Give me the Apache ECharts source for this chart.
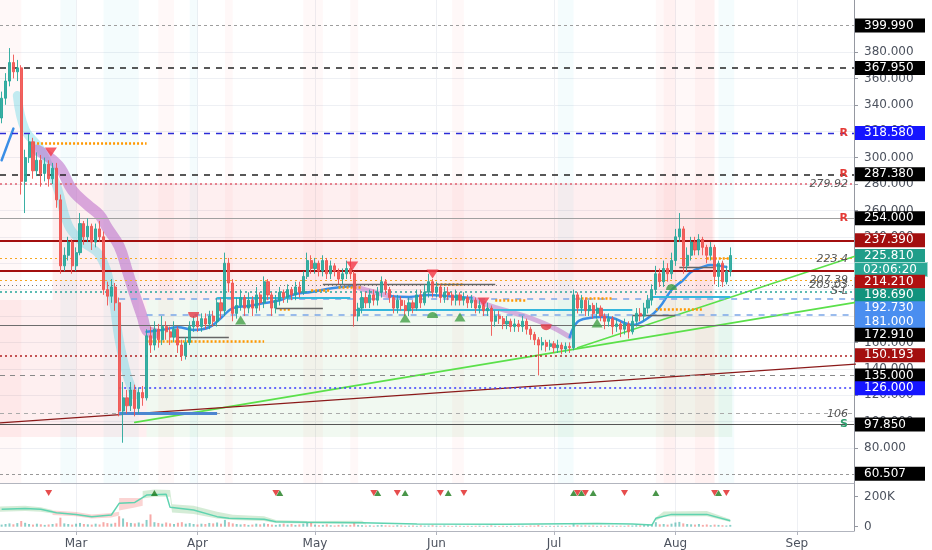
<!DOCTYPE html>
<html><head><meta charset="utf-8">
<script src="https://cdn.jsdelivr.net/npm/echarts@6/dist/echarts.min.js"></script>
<style>html,body{margin:0;padding:0;background:#fff}#c{width:932px;height:550px}</style>
</head><body><div id="c"></div>
<script>
// ---------------- DATA ----------------
const startDate = '2020-02-11';
const openVals = [
330,345,358,372,365,368,282,300,312,290,
298,288,295,284,292,268,218,226,236,218,
228,250,240,248,236,246,240,200,195,202,
190,108,118,112,124,110,122,118,165,158,
170,162,172,168,164,170,158,150,160,172,
176,172,178,174,180,176,190,184,220,205,
182,188,194,186,192,186,196,190,206,196,
186,192,198,194,200,196,202,198,210,222,
216,220,214,222,212,218,214,208,212,216,
212,180,186,194,190,196,192,198,206,200,
194,186,192,188,184,190,186,196,190,198,
206,198,202,194,198,196,192,196,192,194,
190,192,186,188,184,186,176,180,178,174,
176,172,174,172,176,170,166,162,158,160,
157,159,156,158,155,157,156,196,186,192,
184,188,182,186,180,176,178,172,174,170,
174,168,176,182,180,186,192,200,212,206,
216,212,222,240,246,218,226,236,230,238,
232,226,232,210,220,206,214];
const closeVals = [
345,358,372,365,368,282,300,312,290,298,
288,295,284,292,268,218,226,236,218,228,
250,240,248,236,246,240,200,195,202,190,
108,118,112,124,110,122,118,165,158,170,
162,172,168,164,170,158,150,160,172,176,
172,178,174,180,176,190,184,220,205,182,
188,194,186,192,186,196,190,206,196,186,
192,198,194,200,196,202,198,210,222,216,
220,214,222,212,218,214,208,212,216,212,
180,186,194,190,196,192,198,206,200,194,
186,192,188,184,190,186,196,190,198,206,
198,202,194,198,196,192,196,192,194,190,
192,186,188,184,186,176,180,178,174,176,
172,174,172,176,170,166,162,158,160,157,
159,156,158,155,157,156,196,186,192,184,
188,182,186,180,176,178,172,174,170,174,
168,176,182,180,186,192,200,212,206,216,
212,222,240,246,218,226,236,230,238,232,
226,232,210,220,206,214,225.81];
const highVals = [
350,364,383,378,374,370,306,318,315,304,
302,300,298,296,296,272,232,240,238,232,
258,252,254,250,250,252,244,206,208,205,
194,130,124,130,128,126,127,170,172,176,
174,180,176,172,176,172,162,164,176,180,
180,182,182,184,184,194,194,228,224,208,
194,200,196,198,195,202,198,210,208,198,
196,202,200,204,202,206,206,214,228,226,
224,222,226,224,222,220,216,216,222,224,
214,190,198,198,200,200,202,210,208,202,
196,196,195,192,194,192,200,200,204,212,
208,206,204,202,202,198,200,198,198,196,
196,194,192,190,190,188,184,184,180,180,
178,178,177,180,178,172,168,164,164,162,
162,161,162,160,160,160,200,198,196,194,
192,190,190,188,182,182,180,178,176,178,
176,180,186,186,190,196,204,218,216,222,
220,228,246,258,248,232,240,240,242,240,
234,236,234,222,222,218,232];
const lowVals = [
326,340,354,360,358,272,258,296,284,286,
278,282,278,280,262,212,214,222,212,214,
226,234,236,230,232,236,196,188,190,184,
104,84,106,108,104,106,112,116,152,154,
156,158,162,158,160,152,146,147,158,168,
168,168,170,170,172,172,178,180,198,176,
178,184,180,182,180,182,184,186,192,180,
182,188,190,190,192,192,194,196,208,212,
212,210,210,208,208,210,204,204,208,208,
172,176,182,186,186,188,188,194,196,190,
182,182,184,180,180,182,184,186,188,194,
194,194,190,190,192,188,188,188,188,186,
186,182,182,180,180,165,172,174,170,170,
168,168,168,168,166,162,158,135,154,153,
154,152,152,151,152,152,154,182,182,180,
180,178,178,176,170,172,166,168,164,166,
163,166,172,176,176,182,188,196,202,202,
206,208,218,236,212,214,222,226,226,226,
220,222,204,202,202,204,210];
const volumeVals = [ // thousands
14,18,22,16,24,38,26,18,14,20,
16,12,15,18,22,60,22,18,14,20,
25,18,16,14,20,15,30,24,20,26,
70,55,30,25,22,28,20,45,82,30,
25,20,28,22,18,26,30,20,24,18,
15,20,18,25,22,28,20,45,30,22,
18,15,18,12,14,20,16,22,18,14,
12,16,20,14,18,12,15,20,26,30,
14,10,12,16,10,8,12,14,10,12,
28,12,10,8,9,7,10,12,9,8,
7,10,8,6,7,8,6,9,7,8,
10,7,6,8,6,5,7,6,5,6,
5,6,7,5,6,9,6,5,6,5,
6,5,7,6,5,8,7,12,6,5,
6,5,7,6,5,6,25,10,8,9,
7,8,6,7,6,8,7,6,7,6,
9,8,10,9,12,14,18,30,16,18,
14,20,28,32,22,18,16,14,18,12,
15,10,14,12,10,8,12];

const monthTicks = ['2020-03-01','2020-04-01','2020-05-01','2020-06-01','2020-07-01','2020-08-01','2020-09-01'];
const monthNames = ['Mar','Apr','May','Jun','Jul','Aug','Sep'];
const priceTicks = [80,100,120,140,160,180,200,220,240,260,280,300,320,340,360,380];
const volTicks = [0,200];
const volTickLabels = ['0','200K'];

const levelValues = [399.99,367.95,318.58,287.38,279.92,254,237.39,225.81,223.4,214.21,207.39,203.03,198.69,192.73,181,172.91,150.193,135,126,106,97.85,60.507];
const levelBoxTexts = ['399.990','367.950','318.580','287.380',null,'254.000','237.390','225.810',null,'214.210',null,null,'198.690','192.730','181.000','172.910','150.193','135.000','126.000',null,'97.850','60.507'];
const levelNotes = [null,null,'R','R','279.92','R',null,null,'223.4',null,'207.39','203.03','S-L',null,null,null,null,null,null,'106','S',null];
const countdownText = '02:06:20';

const blueMA = [
 [['2020-02-11',298],['2020-02-12',306],['2020-02-13',314],['2020-02-14',322]],
 [['2020-03-19',168],['2020-03-23',169.5],['2020-03-27',171.5],['2020-03-31',169.5],['2020-04-04',171.5],['2020-04-07',178.5],['2020-04-10',186],['2020-04-14',187.6],['2020-04-18',189.8],['2020-04-22',192],['2020-04-26',196.7],['2020-04-30',198.2],['2020-05-04',200.5],['2020-05-08',202],['2020-05-11',202.7]],
 [['2020-05-20',195.2],['2020-05-25',194.5],['2020-05-30',196],['2020-06-04',195],['2020-06-10',193.6]],
 [['2020-07-05',164.1],['2020-07-07',175.5],['2020-07-10',178.5],['2020-07-13',179.2],['2020-07-16',178.5],['2020-07-19',174.7],['2020-07-21',173.2],['2020-07-25',178.5],['2020-07-28',186.8],['2020-07-31',199.7],['2020-08-03',207.3],['2020-08-05',213.3],['2020-08-08',217.1],['2020-08-10',218.6],['2020-08-14',217.1]]
];
const purpleRibbon = [['2020-02-20',305.8],['2020-02-23',300.5],['2020-02-26',292],['2020-02-29',275.5],['2020-03-04',264],['2020-03-07',256.5],['2020-03-09',246.7],['2020-03-12',233],['2020-03-14',215],['2020-03-16',196],['2020-03-18',178.5],['2020-03-19',169.4],['2020-03-21',167]];
const purpleThin = [
 [['2020-05-11',202.7],['2020-05-14',199.7],['2020-05-20',195.2]],
 [['2020-06-10',193.6],['2020-06-14',188.5],['2020-06-20',183],['2020-06-25',178.5],['2020-07-01',171],['2020-07-05',164.1]]
];
const cyanRibbon = [['2020-02-15',347],['2020-02-17',321],['2020-02-21',306],['2020-02-25',279],['2020-02-28',249],['2020-03-02',237.6],['2020-03-07',226],['2020-03-10',199.7],['2020-03-12',161.8],['2020-03-14',135.3],['2020-03-16',120]];

const greenTrendLow = [['2020-03-16',99.4],['2020-09-16',190.3]];
const greenTrendHigh = [['2020-07-07',156],['2020-09-16',225.5]];
const redTrend = [['2020-02-10',98.9],['2020-09-16',143.6]];

const cyanSegments = [
 [['2020-02-10',118.5],['2020-03-12',118.5]],
 [['2020-04-06',193.6],['2020-05-10',193.6]],
 [['2020-05-11',184.5],['2020-07-21',184.5]],
 [['2020-07-26',194.4],['2020-08-15',194.4]]
];
const blueSegment = [['2020-03-12',106.5],['2020-04-06',106.5]];
const greyBand106 = [['2020-02-10',106],['2020-08-15',106]];
const orangeSegments = [
 [['2020-02-10',351],['2020-02-14',351]],
 [['2020-02-18',311],['2020-03-19',311]],
 [['2020-03-19',161],['2020-04-18',161]],
 [['2020-04-22',185.3],['2020-04-25',185.3]],
 [['2020-04-30',199.7],['2020-05-05',199.7]],
 [['2020-05-07',202],['2020-05-13',202]],
 [['2020-06-01',204],['2020-06-08',204]],
 [['2020-06-16',192],['2020-06-24',192]],
 [['2020-07-07',193.6],['2020-07-16',193.6]],
 [['2020-07-27',185.3],['2020-08-08',185.3]],
 [['2020-08-09',223.9],['2020-08-15',223.9]]
];
const greySegments = [
 [['2020-02-10',254],['2020-03-26',254]],
 [['2020-03-27',164],['2020-04-09',164]],
 [['2020-04-21',186],['2020-05-03',186]],
 [['2020-05-03',204.2],['2020-06-16',204.2]],
 [['2020-07-21',180.8],['2020-08-01',180.8]],
 [['2020-08-02',217],['2020-08-11',217]]
];
const darkDotted150 = [['2020-02-10',150.193],['2020-03-01',150.193]];

const upTriangles = [['2020-04-12',177],['2020-05-24',178.5],['2020-06-07',179.2],['2020-07-12',174.7]];
const upCaps = [['2020-05-31',180.8],['2020-07-31',202]];
const downTriangles = [['2020-02-23T14:00:00',304.2],['2020-05-10T12:00:00',217.9],['2020-05-31',211.8],['2020-06-13',190.6]];
const downCaps = [['2020-03-31',180.8],['2020-06-29',171.5]];

const volMarksDown = ['2020-02-23','2020-04-21','2020-05-16','2020-05-22','2020-06-02','2020-06-08','2020-07-07','2020-07-09','2020-07-19','2020-08-11','2020-08-14'];
const volMarksUp = ['2020-03-21','2020-04-22','2020-05-17','2020-05-24','2020-06-04','2020-07-06','2020-07-08','2020-07-11','2020-07-27','2020-08-12'];
const volMarkLevel = 225;

const volLine = [['2020-02-11',116],['2020-02-17',122],['2020-02-21',116],['2020-02-25',93],['2020-03-01',82],['2020-03-05',67],['2020-03-10',78],['2020-03-12',156],['2020-03-16',162],['2020-03-19',211],['2020-03-24',216],['2020-03-25',129],['2020-03-31',111],['2020-04-06',67],['2020-04-09',56],['2020-04-18',49],['2020-04-21',33],['2020-04-29',29],['2020-05-13',27],['2020-05-27',18],['2020-06-19',16],['2020-07-12',22],['2020-07-21',18],['2020-07-26',11],['2020-07-27',56],['2020-07-31',82],['2020-08-09',82],['2020-08-15',40]];
const volGreenBands = [
 [['2020-02-10T14:00:00',100,135],['2020-02-17',105,140],['2020-02-21',100,130],['2020-02-24',88,112]],
 [['2020-03-18',188,238],['2020-03-21',200,248],['2020-03-25',200,245],['2020-03-25T12:00:00',95,150],['2020-03-31',85,140],['2020-04-06',55,100],['2020-04-10',45,80],['2020-04-18',38,70],['2020-04-21',25,45],['2020-04-29',22,38],['2020-05-13',20,40],['2020-05-14',14,22]],
 [['2020-07-27',40,62],['2020-07-29',68,102],['2020-08-09',70,104],['2020-08-15',32,50]]
];
const volPinkBands = [
 [['2020-02-24',78,108],['2020-03-01',70,98],['2020-03-05',55,82],['2020-03-10',62,92],['2020-03-12',75,100]],
 [['2020-03-12',108,192],['2020-03-16',128,192],['2020-03-18',140,190]]
];

const zonePink = [[['2020-02-24',280.8],['2020-08-10T12:00:00',192.1]],[['2020-02-10',192.1],['2020-03-19',88.3]]];
const zoneGreen = [[['2020-03-19',192.1],['2020-08-15T12:00:00',88.3]]];
const stripesPink = [['2020-02-10','2020-02-16'],['2020-03-22','2020-03-26'],['2020-04-08','2020-04-10'],['2020-04-28','2020-05-03'],['2020-05-10','2020-05-12'],['2020-06-05','2020-06-08'],['2020-07-27','2020-08-11'],['2020-07-29','2020-08-01'],['2020-08-06','2020-08-11']];
const stripesCyan = [['2020-02-26','2020-03-01'],['2020-03-08','2020-03-17'],['2020-03-30','2020-04-01'],['2020-07-02','2020-07-06'],['2020-08-12','2020-08-16']];

// ---------------- BUILD ----------------
const DAY = 86400000;
function T(s){ return new Date(s.length <= 10 ? s + 'T00:00:00' : s).getTime(); }
const t0 = T(startDate);
const times = closeVals.map((_, i) => t0 + i * DAY);
const xMin = T('2020-02-10T14:00:00');
const xMax = xMin + 218 * DAY;
const UP = '#26a69a', DOWN = '#ef5350';
const FONT = 'DejaVu Sans';
const NOLINE = { color:'rgba(0,0,0,0)', width:0.1, type:'solid' };

const candleData = times.map((t, i) => [t, openVals[i], closeVals[i], lowVals[i], highVals[i]]);
const volData = times.map((t, i) => ({ value: [t, volumeVals[i]], itemStyle: { color: closeVals[i] >= openVals[i] ? 'rgba(38,166,154,0.55)' : 'rgba(239,83,80,0.5)' } }));
const P = arr => arr.map(p => [T(p[0]), p[1]]);

const levelStyle = [
 {color:'#9e9e9e', type:[3,3], width:1, bg:'#000'},
 {color:'#222', type:[6,6], width:1.5, bg:'#000'},
 {color:'#2b2bd6', type:[6,6], width:1.3, bg:'#1515ff', tag:'#e53935'},
 {color:'#222', type:[6,6], width:1.5, bg:'#000', tag:'#e53935'},
 {color:'#e06070', type:[2,3], width:1.5},
 {color:'#a0a0a0', type:'solid', width:1, bg:'#000', tag:'#e53935'},
 {color:'#a30f0f', type:'solid', width:2, bg:'#a30f0f'},
 {hidden:true, bg:'#1f9d89'},
 {color:'#f5a623', type:[2,3], width:1},
 {color:'#a30f0f', type:'solid', width:2, bg:'#b01010', shift:11},
 {color:'#f5a623', type:[2,3], width:1},
 {color:'#777', type:[1,3], width:1},
 {color:'#26a69a', type:[2,3], width:1.5, bg:'#11937d', shift:4},
 {color:'#7ba6e8', type:[6,6], width:1.5, bg:'#4a8ef0', shift:9, from:'2020-03-12'},
 {color:'#7ba6e8', type:[6,6], width:1.5, bg:'#4a8ef0', shift:7, from:'2020-03-19'},
 {color:'#6d6d6d', type:'solid', width:1, bg:'#000', shift:9.5},
 {color:'#b02020', type:[2,3], width:1.5, bg:'#a30f0f'},
 {color:'#888', type:[5,5], width:1, bg:'#000'},
 {color:'#3a3aff', type:[2,3], width:1.5, bg:'#1515ff', shift:1, from:'2020-03-12'},
 {color:'#aaa', type:[4,4], width:1},
 {color:'#555', type:'solid', width:1, bg:'#000', tag:'#2e9e6e'},
 {color:'#999', type:[3,3], width:1, bg:'#000'}
];

function boxLabel(text, bg, shift){
  const rich = {
    t: { color:'#fff', backgroundColor:bg, fontSize:12, fontFamily:FONT, height:14, lineHeight:14, width:52, padding:[0,9,0,9], align:'left' },
    s: { fontSize:1, height:Math.max(1, Math.abs(shift)*2), lineHeight:Math.max(1, Math.abs(shift)*2) }
  };
  let fmt = '{t|' + text + '}';
  if (shift > 0) fmt = '{s| }\n' + fmt; else if (shift < 0) fmt = fmt + '\n{s| }';
  return { show:true, position:'end', distance:1, formatter:fmt, rich };
}

const markLines = [];
levelValues.forEach((v, i) => {
  const st = levelStyle[i];
  const box = levelBoxTexts[i];
  let label = { show:false };
  if (i === 7) {
    label = { show:true, position:'end', distance:1,
      formatter:'{s| }\n{a|' + box + '}\n{b|' + countdownText + '}',
      rich:{
        s:{fontSize:1, height:14, lineHeight:14},
        a:{color:'#fff', backgroundColor:'#1f9d89', fontSize:12, fontFamily:FONT, height:14, lineHeight:14, width:52, padding:[0,9,0,9]},
        b:{color:'#fff', backgroundColor:'#2aa896', borderColor:'#9fd8cf', borderWidth:1, fontSize:12, fontFamily:FONT, height:13, lineHeight:13, width:56, padding:[0,8,0,8]}
      } };
  } else if (box) {
    label = boxLabel(box, st.bg, st.shift || 0);
  }
  const ls = st.hidden ? NOLINE : { color:st.color, type:st.type, width:st.width };
  const x0 = st.from ? T(st.from) : xMin;
  markLines.push([{ coord:[x0, v], lineStyle:ls, label }, { coord:[xMax, v] }]);
  const note = levelNotes[i];
  if (note) {
    const isTag = !!st.tag && (note === 'R' || note === 'S');
    markLines.push([{ coord:[xMin, v], lineStyle:NOLINE, label:{ show:true, position:'insideEnd', distance:6, formatter:note,
      color: isTag ? st.tag : '#555', fontStyle: isTag ? 'normal' : 'italic', fontSize:11, fontWeight: isTag ? 'bold' : 'normal', fontFamily:FONT } }, { coord:[xMax, v] }]);
  }
});

function segLines(list, style){
  return list.map(seg => [{ coord:[T(seg[0][0]), seg[0][1]], lineStyle:style, label:{show:false} }, { coord:[T(seg[1][0]), seg[1][1]] }]);
}
const extraLines = [].concat(
  segLines(cyanSegments, {color:'#35b7dc', type:'solid', width:2}),
  segLines([blueSegment], {color:'#4d86d0', type:'solid', width:3}),
  segLines([greyBand106], {color:'rgba(120,120,120,0.4)', type:'solid', width:4}),
  segLines(orangeSegments, {color:'#ff9800', type:[2,2], width:2.5}),
  segLines(greySegments, {color:'#666', type:'solid', width:1.3}),
  segLines([darkDotted150], {color:'#333', type:[2,3], width:1.5})
);

const areas = [];
zonePink.forEach(z => areas.push([{ xAxis:T(z[0][0]), yAxis:z[0][1], itemStyle:{color:'rgba(242,54,69,0.08)'} }, { xAxis:T(z[1][0]), yAxis:z[1][1] }]));
zoneGreen.forEach(z => areas.push([{ xAxis:T(z[0][0]), yAxis:z[0][1], itemStyle:{color:'rgba(76,175,80,0.08)'} }, { xAxis:T(z[1][0]), yAxis:z[1][1] }]));
stripesPink.forEach(s => areas.push([{ xAxis:T(s[0]), yAxis:53.5, itemStyle:{color:'rgba(242,54,69,0.035)'} }, { xAxis:T(s[1]), yAxis:419.4 }]));
stripesCyan.forEach(s => areas.push([{ xAxis:T(s[0]), yAxis:53.5, itemStyle:{color:'rgba(0,188,212,0.045)'} }, { xAxis:T(s[1]), yAxis:419.4 }]));

function bandSeries(pts, color){
  return { type:'custom', xAxisIndex:1, yAxisIndex:1, silent:true, z:2,
    data:[[T(pts[0][0]), pts[0][1]]],
    renderItem:(params, api) => {
      const up = pts.map(p => api.coord([T(p[0]), p[2]]));
      const lo = pts.slice().reverse().map(p => api.coord([T(p[0]), p[1]]));
      return { type:'polygon', shape:{ points: up.concat(lo) }, style:{ fill: color } };
    } };
}
function lineSeries(pts, color, width, z, smooth){
  return { type:'line', xAxisIndex:0, yAxisIndex:0, data:P(pts), showSymbol:false, symbol:'none', smooth: smooth ? 0.4 : false, silent:true, z:z||3,
    lineStyle:{ color, width, cap:'round', join:'round' } };
}
const semiUp = 'path://M0,10 A10,10 0 0 1 20,10 Z';
const semiDown = 'path://M0,0 A10,10 0 0 0 20,0 Z';

const series = [
  { type:'scatter', name:'bg', xAxisIndex:0, yAxisIndex:0, data:[[xMin, 53.5]], symbolSize:0, z:1, silent:true,
    markArea:{ silent:true, data:areas } },
  lineSeries(cyanRibbon, 'rgba(77,208,225,0.35)', 9, 2, true),
  lineSeries(purpleRibbon, 'rgba(186,104,200,0.55)', 11, 2, true),
  ...purpleThin.map(s => lineSeries(s, 'rgba(186,104,200,0.5)', 5, 2, true)),
  ...blueMA.map(s => lineSeries(s, '#3a8ee6', 2.5, 4, true)),
  lineSeries(greenTrendLow, '#5be04a', 1.8, 4),
  lineSeries(greenTrendHigh, '#5be04a', 1.5, 4),
  lineSeries(redTrend, '#8b1a1a', 1.2, 4),
  { type:'candlestick', xAxisIndex:0, yAxisIndex:0, data:candleData, encode:{x:0, y:[1,2,3,4]}, barWidth:2.6, z:5, silent:true,
    itemStyle:{ color:UP, color0:DOWN, borderColor:UP, borderColor0:DOWN, borderWidth:1, opacity:0.9 } },
  { type:'scatter', name:'levels', xAxisIndex:0, yAxisIndex:0, data:[[xMin, 53.5]], symbolSize:0, z:6, silent:true,
    markLine:{ silent:true, symbol:['none','none'], animation:false, data: markLines.concat(extraLines) } },
  { type:'scatter', xAxisIndex:0, yAxisIndex:0, data:P(upTriangles), symbol:'triangle', symbolSize:[11,9], itemStyle:{color:'#43a047'}, z:7, silent:true },
  { type:'scatter', xAxisIndex:0, yAxisIndex:0, data:P(upCaps), symbol:semiUp, symbolSize:[11,6], itemStyle:{color:'#3d9e45'}, z:7, silent:true },
  { type:'scatter', xAxisIndex:0, yAxisIndex:0, data:P(downTriangles), symbol:'triangle', symbolRotate:180, symbolSize:[12,9], itemStyle:{color:'#f23645'}, z:7, silent:true },
  { type:'scatter', xAxisIndex:0, yAxisIndex:0, data:P(downCaps), symbol:semiDown, symbolSize:[11,6], itemStyle:{color:'#e53945'}, z:7, silent:true },
  ...volGreenBands.map(b => bandSeries(b, 'rgba(102,187,106,0.28)')),
  ...volPinkBands.map(b => bandSeries(b, 'rgba(239,83,80,0.25)')),
  { type:'bar', xAxisIndex:1, yAxisIndex:1, data:volData, barWidth:2, z:3, silent:true },
  { type:'line', xAxisIndex:1, yAxisIndex:1, data:P(volLine), showSymbol:false, symbol:'none', z:4, silent:true, lineStyle:{color:'#5fd3b0', width:1.5} },
  { type:'scatter', xAxisIndex:1, yAxisIndex:1, data:volMarksDown.map(d => [T(d), volMarkLevel]), symbol:'triangle', symbolRotate:180, symbolSize:[7,6], itemStyle:{color:'#e02020'}, z:6, silent:true },
  { type:'scatter', xAxisIndex:1, yAxisIndex:1, data:volMarksUp.map(d => [T(d), volMarkLevel]), symbol:'triangle', symbolSize:[7,6], itemStyle:{color:'#1b7a1b'}, z:6, silent:true }
];

const monthTs = monthTicks.map(T);
const axisGrey = '#b2b5be';
const option = {
  animation:false,
  backgroundColor:'#ffffff',
  textStyle:{ fontFamily:FONT },
  grid:[
    { left:0, right:78, top:0, height:483 },
    { left:0, right:78, top:483, height:48 }
  ],
  xAxis:[
    { type:'value', gridIndex:0, min:xMin, max:xMax, scale:true,
      axisLine:{ show:true, onZero:false, lineStyle:{ color:axisGrey } }, axisTick:{ show:false, customValues:monthTs },
      axisLabel:{ show:false, customValues:monthTs },
      splitLine:{ show:true, lineStyle:{ color:'#eef0f4' } } },
    { type:'value', gridIndex:1, min:xMin, max:xMax, scale:true,
      axisLine:{ show:true, onZero:false, lineStyle:{ color:axisGrey } },
      axisTick:{ show:true, length:4, customValues:monthTs, lineStyle:{ color:axisGrey } },
      axisLabel:{ show:true, customValues:monthTs, color:'#4c525e', fontSize:12, margin:7, fontFamily:FONT,
        formatter:(v) => { const k = monthTs.findIndex(m => Math.abs(m - v) < DAY/2); return k >= 0 ? monthNames[k] : ''; } },
      splitLine:{ show:true, lineStyle:{ color:'#eef0f4' } } }
  ],
  yAxis:[
    { type:'value', gridIndex:0, position:'right', min:53.5, max:419.4, scale:true,
      axisLine:{ show:true, lineStyle:{ color:'#9598a1' } },
      axisTick:{ show:true, length:4, customValues:priceTicks, lineStyle:{ color:'#9598a1' } },
      axisLabel:{ show:true, customValues:priceTicks, color:'#4c525e', fontSize:12, margin:10, fontFamily:FONT, formatter:(v) => v.toFixed(3) },
      splitLine:{ show:true, lineStyle:{ color:'#eef0f4' } } },
    { type:'value', gridIndex:1, position:'right', min:-28.7, max:291.3, scale:true,
      axisLine:{ show:true, lineStyle:{ color:'#9598a1' } },
      axisTick:{ show:true, length:4, customValues:volTicks, lineStyle:{ color:'#9598a1' } },
      axisLabel:{ show:true, customValues:volTicks, color:'#4c525e', fontSize:12, margin:10, fontFamily:FONT,
        formatter:(v) => { const k = volTicks.indexOf(Math.round(v)); return k >= 0 ? volTickLabels[k] : ''; } },
      splitLine:{ show:false } }
  ],
  series
};
const chart = echarts.init(document.getElementById('c'), null, { renderer:'canvas' });
chart.setOption(option);
</script>
</body></html>
